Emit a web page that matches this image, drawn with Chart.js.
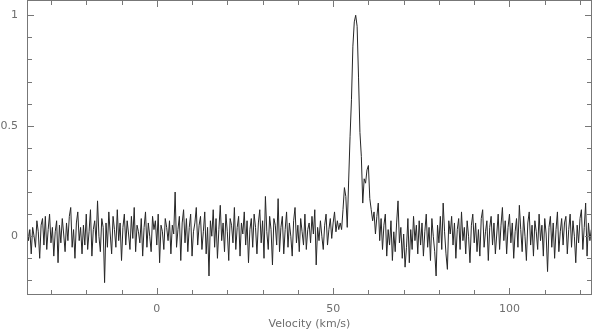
<!DOCTYPE html>
<html><head><meta charset="utf-8">
<script src="https://cdn.jsdelivr.net/npm/chart.js@4.4.0/dist/chart.umd.min.js"></script>
<style>html,body{margin:0;padding:0;background:#fff;overflow:hidden}#wrap{width:594px;height:331px;position:relative}</style>
</head><body><div id="wrap"><canvas id="c"></canvas></div>
<script>
// Spectrum: channel velocity grid (km/s) and intensity values
const velocityStart = -36.8;
const velocityStep = 0.4;
const intensity = [
 0.06,-0.02,0.03,-0.08,0.04,0.00,-0.05,0.07,0.02,-0.10,0.05,0.08,-0.04,0.09,-0.06,0.03,0.10,-0.03,0.04,-0.09,
 0.02,0.07,-0.12,0.05,-0.03,0.08,0.01,-0.07,0.06,-0.02,0.09,0.13,-0.05,0.03,-0.10,0.06,0.11,-0.02,0.04,-0.08,
 0.05,-0.04,0.10,-0.06,0.02,0.12,-0.09,0.03,0.07,-0.03,0.16,0.00,-0.07,0.08,0.04,-0.21,0.06,-0.05,0.11,0.01,
 -0.08,0.09,0.03,-0.05,0.12,-0.02,0.06,-0.11,0.04,0.10,-0.04,0.07,0.01,-0.06,0.09,-0.01,0.13,-0.07,0.05,0.02,
 -0.03,0.08,-0.09,0.04,0.11,-0.05,0.06,0.00,-0.07,0.09,0.03,0.07,-0.04,0.10,-0.12,0.05,0.02,-0.06,0.08,0.04,
 -0.02,0.07,-0.08,0.05,0.01,0.20,-0.05,0.03,0.09,-0.11,0.06,0.12,-0.03,0.08,-0.07,0.04,0.10,-0.09,0.02,0.06,
 0.13,-0.04,0.05,0.09,-0.06,0.02,0.11,-0.08,0.04,-0.18,0.07,0.00,0.12,-0.05,0.08,-0.10,0.03,0.14,-0.02,0.06,
 -0.07,0.10,0.02,-0.11,0.08,0.05,-0.03,0.13,-0.06,0.04,0.09,-0.09,0.06,0.01,0.11,-0.04,0.07,-0.12,0.03,0.08,
 -0.05,0.10,0.04,-0.08,0.06,0.12,-0.03,0.07,-0.10,0.18,0.02,-0.06,0.09,0.03,-0.13,0.08,0.05,-0.04,0.17,-0.07,
 0.04,0.09,-0.08,0.03,0.11,-0.05,0.06,0.00,-0.09,0.07,0.13,-0.03,0.05,-0.07,0.08,0.02,-0.04,0.10,-0.06,0.03,
 0.06,-0.03,0.09,0.01,0.12,-0.13,0.04,-0.02,0.07,0.00,-0.06,0.05,0.10,-0.04,0.03,0.08,-0.01,0.06,0.11,0.02,
 0.07,0.03,
 0.06,0.03,0.12,0.22,0.18,0.04,0.25,0.45,0.62,0.86,0.97,1.00,0.95,0.72,0.47,0.36,0.15,0.26,0.24,0.30,0.32,0.17,0.12,0.07,0.11,0.01,0.09,
 0.15,-0.02,0.08,-0.06,0.05,0.10,-0.09,0.03,-0.04,0.07,-0.11,
 0.02,-0.07,0.06,0.16,-0.03,0.04,-0.10,0.01,-0.14,-0.05,0.08,-0.12,0.03,-0.06,0.09,-0.02,0.05,-0.08,0.07,-0.04,
 0.06,-0.09,0.02,0.10,-0.05,0.04,-0.11,0.08,0.00,-0.07,-0.18,0.05,-0.03,0.09,-0.06,0.15,0.02,-0.08,-0.15,0.07,
 0.01,0.09,-0.04,0.06,-0.10,0.03,0.08,-0.06,0.11,-0.02,0.04,-0.08,0.07,0.00,-0.12,0.05,0.10,-0.03,0.06,-0.07,
 0.03,-0.09,0.08,0.12,-0.05,0.02,0.07,-0.11,0.04,0.09,-0.04,0.06,-0.08,0.01,0.10,-0.06,0.05,0.13,-0.02,0.07,
 -0.08,0.04,0.10,-0.03,0.06,-0.10,0.02,0.08,-0.05,0.14,0.03,-0.07,0.09,0.00,-0.11,0.06,0.11,-0.04,0.05,-0.09,
 0.07,0.02,-0.06,0.10,-0.02,0.05,-0.09,0.08,0.01,-0.16,0.04,0.09,-0.05,0.06,-0.10,0.03,0.11,-0.07,0.02,0.08,
 -0.04,0.06,0.09,-0.08,0.03,0.10,-0.05,0.07,0.00,-0.12,0.05,-0.03,0.08,0.12,-0.06,0.04,0.15,-0.09,0.06,-0.02,0.03
];
const xLabelValues = [0, 50, 100];
const yLabelValues = [0, 0.5, 1];
const xTitle = 'Velocity (km/s)';

const points = intensity.map((v, i) => ({x: velocityStart + i * velocityStep, y: v}));
const near = (a, b) => Math.abs(a - b) < 1e-6;
const isIn = (v, arr) => arr.some(a => near(a, v));

const FONT = {family: 'DejaVu Sans', size: 11};
const GRAY = '#6e6e6e';

const frameTicks = {
  id: 'frameTicks',
  afterDraw(chart) {
    const {ctx, chartArea: a, scales: {x, y}} = chart;
    ctx.save();
    ctx.strokeStyle = '#777';
    ctx.lineWidth = 1;
    ctx.beginPath();
    x.ticks.forEach(t => {
      const px = Math.round(x.getPixelForValue(t.value)) + 0.5;
      const L = isIn(t.value, xLabelValues) ? 7 : 5;
      ctx.moveTo(px, a.bottom); ctx.lineTo(px, a.bottom - L);
      ctx.moveTo(px, a.top); ctx.lineTo(px, a.top + L);
    });
    y.ticks.forEach(t => {
      const py = Math.round(y.getPixelForValue(t.value)) + 0.5;
      const L = isIn(t.value, yLabelValues) ? 7 : 5;
      ctx.moveTo(a.left, py); ctx.lineTo(a.left + L, py);
      ctx.moveTo(a.right, py); ctx.lineTo(a.right - L, py);
    });
    ctx.stroke();
    ctx.strokeRect(a.left + 0.5, a.top + 0.5, a.right - a.left - 1, a.bottom - a.top - 1);
    ctx.restore();
  }
};

new Chart(document.getElementById('c'), {
  type: 'line',
  data: {datasets: [{data: points, borderColor: '#262626', borderWidth: 1, pointRadius: 0, tension: 0, fill: false}]},
  options: {
    responsive: true, maintainAspectRatio: false, animation: false,
    layout: {padding: {top: 0, right: 2, left: 0, bottom: 0}},
    plugins: {legend: {display: false}, tooltip: {enabled: false}},
    scales: {
      x: {
        type: 'linear', min: -36.8, max: 123.4,
        grid: {display: false, drawTicks: false}, border: {display: false},
        ticks: {stepSize: 10, includeBounds: false, autoSkip: false, maxRotation: 0, padding: 8, color: GRAY, font: FONT,
          callback: v => isIn(v, xLabelValues) ? String(Math.round(v)) : ''},
        title: {display: true, text: xTitle, color: GRAY, font: FONT, padding: {top: 0, bottom: 0}},
        afterFit: s => { s.height = 36; s.paddingLeft = 0; s.paddingRight = 0; }
      },
      y: {
        type: 'linear', min: -0.266, max: 1.069,
        grid: {display: false, drawTicks: false}, border: {display: false},
        ticks: {stepSize: 0.1, includeBounds: false, autoSkip: false, padding: 9, color: GRAY, font: FONT,
          callback: v => isIn(v, yLabelValues) ? String(Math.round(v * 10) / 10) : ''},
        afterFit: s => { s.width = 27; s.paddingTop = 0; s.paddingBottom = 0; }
      }
    }
  },
  plugins: [frameTicks]
});
</script></body></html>
